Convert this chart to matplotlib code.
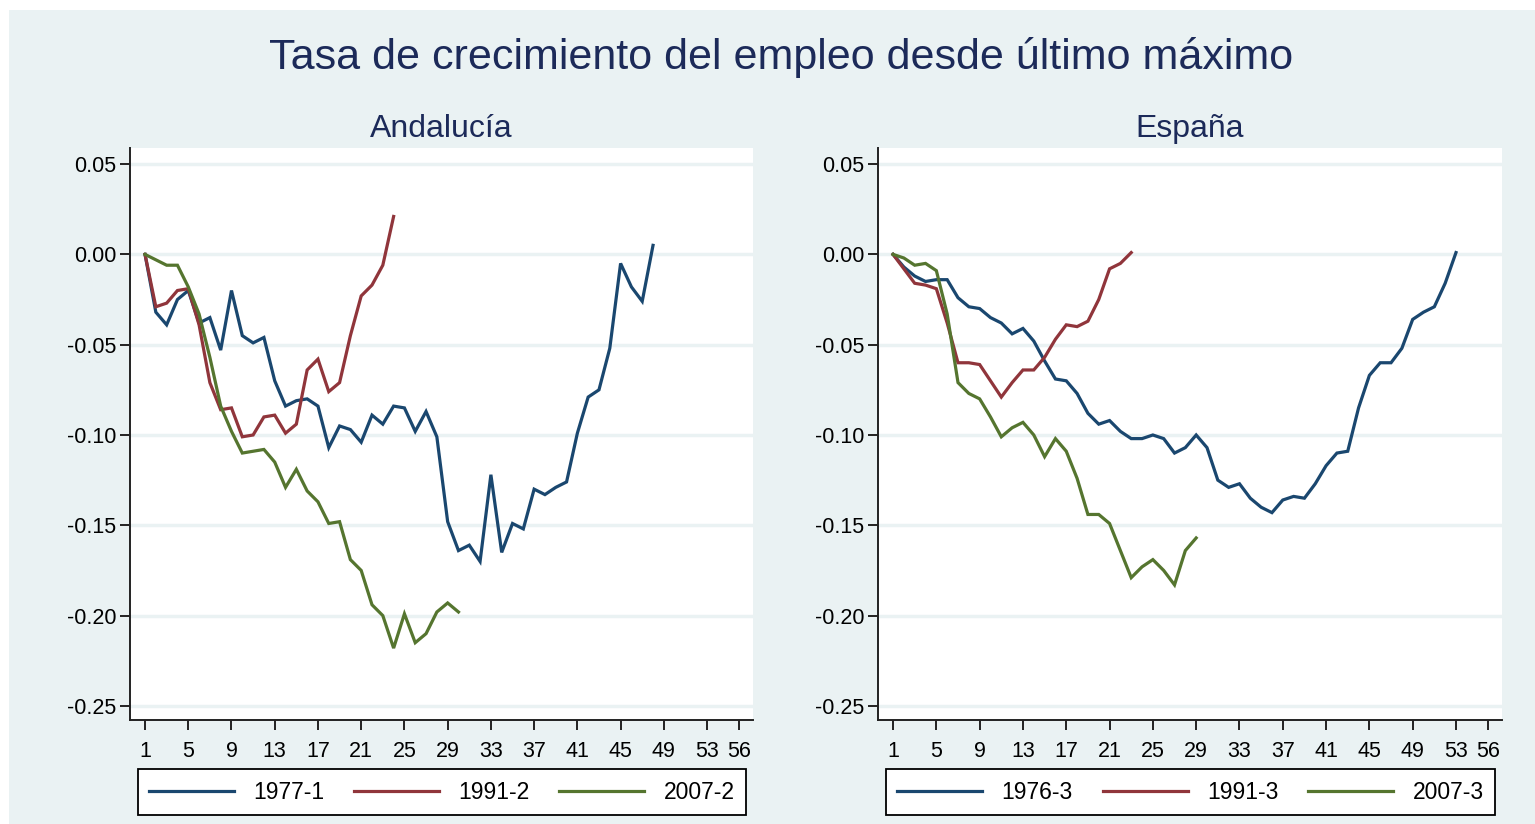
import matplotlib
matplotlib.use("Agg")
import matplotlib.pyplot as plt
from matplotlib.patches import Rectangle

plt.rcParams['font.family'] = ['Liberation Sans', 'DejaVu Sans']

# ---------------- data ----------------
title = "Tasa de crecimiento del empleo desde último máximo"
panel_titles = ["Andalucía", "España"]

xticks = [1, 5, 9, 13, 17, 21, 25, 29, 33, 37, 41, 45, 49, 53, 56]
yticks = [0.05, 0.00, -0.05, -0.10, -0.15, -0.20, -0.25]
ytick_labels = ["0.05", "0.00", "-0.05", "-0.10", "-0.15", "-0.20", "-0.25"]

# Andalucía
and_labels = ["1977-1", "1991-2", "2007-2"]
and_1977_1 = [0.0, -0.032, -0.039, -0.025, -0.020, -0.038, -0.035, -0.053, -0.020, -0.045,
              -0.049, -0.046, -0.070, -0.084, -0.081, -0.080, -0.084, -0.107, -0.095, -0.097,
              -0.104, -0.089, -0.094, -0.084, -0.085, -0.098, -0.087, -0.101, -0.148, -0.164,
              -0.161, -0.170, -0.122, -0.165, -0.149, -0.152, -0.130, -0.133, -0.129, -0.126,
              -0.099, -0.079, -0.075, -0.052, -0.005, -0.018, -0.026, 0.005]
and_1991_2 = [0.0, -0.029, -0.027, -0.020, -0.019, -0.039, -0.071, -0.086, -0.085, -0.101,
              -0.100, -0.090, -0.089, -0.099, -0.094, -0.064, -0.058, -0.076, -0.071, -0.045,
              -0.023, -0.017, -0.006, 0.021]
and_2007_2 = [0.0, -0.003, -0.006, -0.006, -0.018, -0.033, -0.057, -0.084, -0.098, -0.110,
              -0.109, -0.108, -0.115, -0.129, -0.119, -0.131, -0.137, -0.149, -0.148, -0.169,
              -0.175, -0.194, -0.200, -0.218, -0.199, -0.215, -0.210, -0.198, -0.193, -0.198]

# España
esp_labels = ["1976-3", "1991-3", "2007-3"]
esp_1976_3 = [0.0, -0.007, -0.012, -0.015, -0.014, -0.014, -0.024, -0.029, -0.030, -0.035,
              -0.038, -0.044, -0.041, -0.048, -0.059, -0.069, -0.070, -0.077, -0.088, -0.094,
              -0.092, -0.098, -0.102, -0.102, -0.100, -0.102, -0.110, -0.107, -0.100, -0.107,
              -0.125, -0.129, -0.127, -0.135, -0.140, -0.143, -0.136, -0.134, -0.135, -0.127,
              -0.117, -0.110, -0.109, -0.085, -0.067, -0.060, -0.060, -0.052, -0.036, -0.032,
              -0.029, -0.016, 0.001]
esp_1991_3 = [0.0, -0.008, -0.016, -0.017, -0.019, -0.038, -0.060, -0.060, -0.061, -0.070,
              -0.079, -0.071, -0.064, -0.064, -0.057, -0.047, -0.039, -0.040, -0.037, -0.025,
              -0.008, -0.005, 0.001]
esp_2007_3 = [0.0, -0.002, -0.006, -0.005, -0.009, -0.033, -0.071, -0.077, -0.080, -0.090,
              -0.101, -0.096, -0.093, -0.100, -0.112, -0.102, -0.109, -0.124, -0.144, -0.144,
              -0.149, -0.164, -0.179, -0.173, -0.169, -0.175, -0.183, -0.164, -0.157]

# ---------------- style ----------------
colors = ["#1a476f", "#90353b", "#55752f"]
bg = "#eaf2f3"
title_color = "#1c2a59"

fig = plt.figure(figsize=(15.35, 8.24), dpi=100)
fig.patch.set_facecolor("white")
fig.patches.append(Rectangle((9 / 1535, 0), 1 - 9 / 1535, 1 - 10 / 824,
                             transform=fig.transFigure, facecolor=bg,
                             edgecolor="none", zorder=-10))

fig.text(781 / 1535, 1 - 57 / 824, title, ha="center", va="center",
         fontsize=31, color=title_color)

W, H = 1535, 824
panels = [
    (130, 753, panel_titles[0], [and_1977_1, and_1991_2, and_2007_2], and_labels),
    (878, 1502, panel_titles[1], [esp_1976_3, esp_1991_3, esp_2007_3], esp_labels),
]
top_px, bot_px = 148, 720

for left, right, ptitle, series, labels in panels:
    ax = fig.add_axes([left / W, (H - bot_px) / H, (right - left) / W, (bot_px - top_px) / H])
    ax.set_facecolor("white")
    for s, c, lab in zip(series, colors, labels):
        ax.plot(range(1, len(s) + 1), s, color=c, lw=2.3, label=lab,
                solid_joinstyle="miter", zorder=3)
    ax.set_xlim(-0.39, 57.25)
    ax.set_ylim(-0.2578, 0.0589)
    ax.set_yticks(yticks)
    ax.set_yticklabels(ytick_labels)
    ax.set_xticks(xticks)
    for y in yticks:
        ax.axhline(y, color=bg, lw=2.5, zorder=1)
    for sp in ["top", "right"]:
        ax.spines[sp].set_visible(False)
    for sp in ["left", "bottom"]:
        ax.spines[sp].set_color("#222222")
        ax.spines[sp].set_linewidth(1.4)
    ax.tick_params(axis="both", direction="out", length=7, width=1.4,
                   color="#222222", labelsize=15.5, labelcolor="black")
    ax.tick_params(axis="y", pad=3)
    ax.tick_params(axis="x", pad=8)
    fig.text((left + right) / 2 / W, 1 - 129 / H, ptitle, ha="center", va="center",
             fontsize=23, color=title_color)
    w = right - left
    h = bot_px - top_px
    leg = ax.legend(loc="lower left", ncol=3, mode="expand",
                    bbox_to_anchor=((8) / w, -(815 - bot_px) / h, (w - 15) / w, (815 - 771) / h),
                    borderaxespad=0, fontsize=16.5, handlelength=3.7, handletextpad=0.85,
                    frameon=True, fancybox=False, edgecolor="black", facecolor="white",
                    framealpha=1, borderpad=0.5)
    leg.get_frame().set_linewidth(1.3)

fig.savefig("out.png", dpi=100, facecolor=fig.get_facecolor())
